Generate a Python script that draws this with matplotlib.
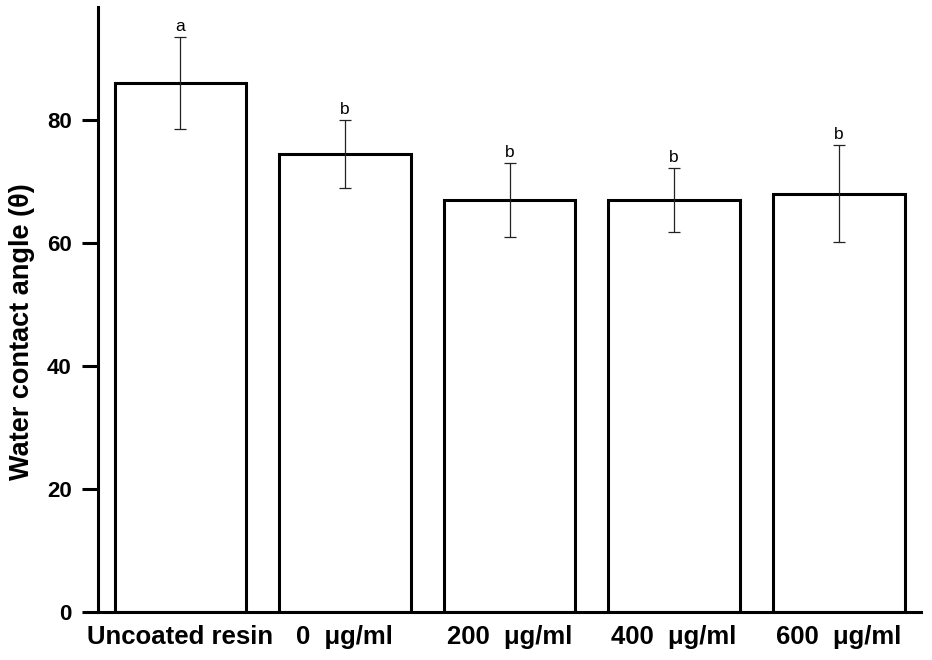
import matplotlib
matplotlib.use("Agg")
import matplotlib.pyplot as plt
import numpy as np

plt.rcParams["font.family"] = ["Liberation Sans", "DejaVu Sans"]

groups = ["Uncoated resin", "0  μg/ml", "200  μg/ml", "400  μg/ml", "600  μg/ml"]
means = [86.0, 74.5, 67.0, 67.0, 68.0]
errors = [7.5, 5.5, 6.0, 5.2, 7.9]
letters = ["a", "b", "b", "b", "b"]
y_ticks = [0, 20, 40, 60, 80]

fig = plt.figure(figsize=(9.32, 6.6), dpi=100)
ax = fig.add_axes([0.1052, 0.0727, 0.8830, 0.9160])

x = np.arange(len(groups))
ax.bar(x, means, width=0.8, color="white", edgecolor="black", linewidth=2.2, zorder=2)
ax.errorbar(x, means, yerr=errors, fmt="none", ecolor="#222222", elinewidth=0.9,
            capsize=4.5, capthick=0.9, zorder=3)

for xi, m, e, lab in zip(x, means, errors, letters):
    ax.annotate(lab, (xi, m + e), xytext=(0, 2), textcoords="offset points",
                ha="center", va="bottom", fontsize=12.5)

ax.set_xlim(-0.5, 4.5)
ax.set_ylim(0, 98.3)
ax.set_yticks(y_ticks)
ax.set_xticks(x)
ax.set_xticklabels(groups, fontsize=18.5, fontweight="bold")
ax.set_yticklabels([str(t) for t in y_ticks], fontsize=16, fontweight="bold")
ax.tick_params(axis="y", direction="out", length=11.5, width=2.2, pad=7.5)
ax.tick_params(axis="x", length=0, pad=9)
ax.set_ylabel("Water contact angle (θ)", fontsize=19.5, fontweight="bold")
ax.yaxis.set_label_coords(-0.077, 0.464)

for side in ["top", "right"]:
    ax.spines[side].set_visible(False)
for side in ["left", "bottom"]:
    ax.spines[side].set_linewidth(2.2)

fig.savefig("out.png", dpi=100)
